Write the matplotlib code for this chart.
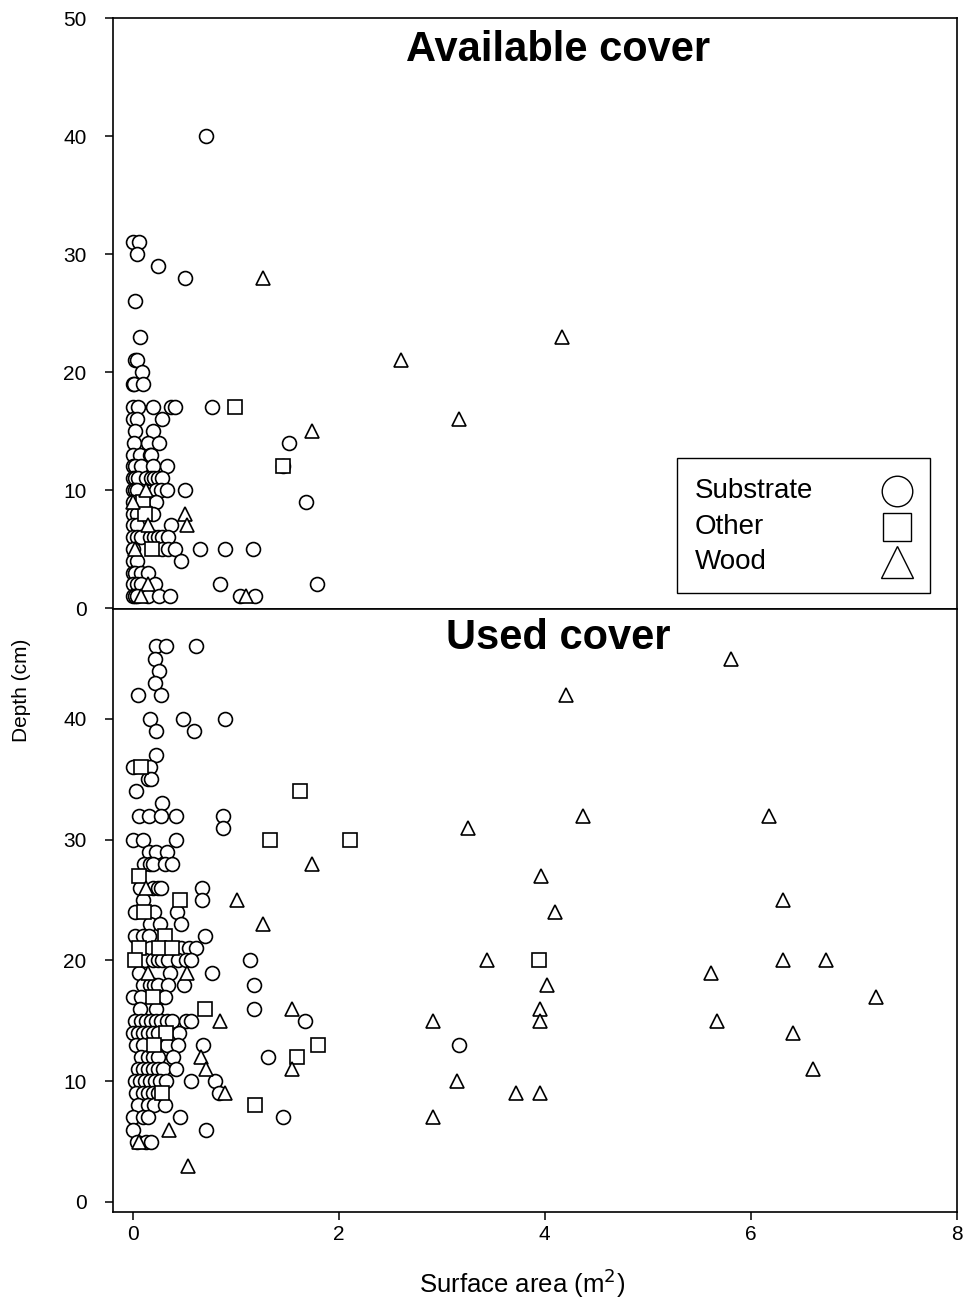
import numpy as np
import matplotlib
matplotlib.use("Agg")
import matplotlib.pyplot as plt
from matplotlib.patches import Rectangle

plt.rcParams['font.family'] = ['Liberation Sans', 'DejaVu Sans']

# ---- Available cover (top panel) ----
avail_sub_x = [0.71,
               0.0, 0.06, 0.04, 0.25, 0.51, 0.02, 0.07, 0.02, 0.04, 0.09,
               0.0, 0.01, 0.1,
               0.0, 0.05, 0.2, 0.37, 0.41, 0.77,
               0.0, 0.04, 0.29,
               0.02, 0.2,
               0.01, 0.15, 0.26, 1.52,
               0.0, 0.07, 0.17, 0.18,
               0.0, 0.02, 0.08, 0.2, 0.33, 1.46,
               0.0, 0.02, 0.05, 0.13, 0.18, 0.21, 0.25, 0.29,
               0.0, 0.02, 0.04, 0.23, 0.28, 0.33, 0.51,
               0.0, 0.18, 0.23, 1.68,
               0.0, 0.04, 0.2,
               0.0, 0.04, 0.37,
               0.0, 0.04, 0.08, 0.17, 0.21, 0.25, 0.29, 0.34,
               0.0, 0.29, 0.34, 0.41, 0.65, 0.9, 1.17,
               0.0, 0.04, 0.47,
               0.0, 0.02, 0.08, 0.15,
               0.0, 0.04, 0.08, 0.22, 0.85, 1.79,
               0.0, 0.02, 0.04, 0.15, 0.26, 0.36, 1.04, 1.19]
avail_sub_y = [40,
               31, 31, 30, 29, 28, 26, 23, 21, 21, 20,
               19, 19, 19,
               17, 17, 17, 17, 17, 17,
               16, 16, 16,
               15, 15,
               14, 14, 14, 14,
               13, 13, 13, 13,
               12, 12, 12, 12, 12, 12,
               11, 11, 11, 11, 11, 11, 11, 11,
               10, 10, 10, 10, 10, 10, 10,
               9, 9, 9, 9,
               8, 8, 8,
               7, 7, 7,
               6, 6, 6, 6, 6, 6, 6, 6,
               5, 5, 5, 5, 5, 5, 5,
               4, 4, 4,
               3, 3, 3, 3,
               2, 2, 2, 2, 2, 2,
               1, 1, 1, 1, 1, 1, 1, 1]
avail_oth_x = [0.99, 1.46, 0.1, 0.12, 0.19]
avail_oth_y = [17, 12, 9, 8, 5]
avail_wood_x = [1.27, 2.6, 4.17, 3.17, 1.74, 0.51, 0.53, 0.13, 0.0, 0.15,
                0.02, 0.15, 0.08, 1.1]
avail_wood_y = [28, 21, 23, 16, 15, 8, 7, 10, 9, 7,
                5, 2, 1, 1]

# ---- Used cover (bottom panel) ----
used_sub_x = [0.23, 0.32, 0.62, 0.22, 0.26, 0.22, 0.05, 0.28,
              0.17, 0.49, 0.9, 0.23, 0.6, 0.23, 0.0, 0.17, 0.15, 0.18,
              0.03, 0.29,
              0.06, 0.16, 0.28, 0.42, 0.88, 0.88,
              0.0, 0.1, 0.42,
              0.16, 0.23, 0.33,
              0.11, 0.17, 0.2, 0.31, 0.38,
              0.07, 0.2, 0.25, 0.28, 0.67,
              0.1, 0.67,
              0.02, 0.21, 0.43,
              0.17, 0.27, 0.47,
              0.02, 0.1, 0.16, 0.7,
              0.17, 0.47, 0.55, 0.62,
              0.12, 0.2, 0.25, 0.29, 0.34, 0.44, 0.52, 0.57, 1.14,
              0.06, 0.36, 0.77,
              0.1, 0.17, 0.21, 0.25, 0.34, 0.5, 1.18,
              0.0, 0.08, 0.28, 0.31,
              0.07, 0.23, 1.18,
              0.02, 0.08, 0.13, 0.18, 0.23, 0.28, 0.33, 0.38, 0.52, 0.57, 1.67,
              0.0, 0.05, 0.1, 0.15, 0.2, 0.25, 0.45,
              0.03, 0.1, 0.33, 0.44, 0.68, 3.17,
              0.08, 0.15, 0.2, 0.25, 0.39, 1.31,
              0.05, 0.1, 0.15, 0.2, 0.25, 0.3, 0.42,
              0.02, 0.07, 0.12, 0.17, 0.22, 0.27, 0.32, 0.57, 0.8,
              0.03, 0.1, 0.15, 0.2, 0.25, 0.84,
              0.05, 0.15, 0.21, 0.31,
              0.0, 0.1, 0.15, 0.46, 1.46,
              0.0, 0.71,
              0.04, 0.13, 0.18]
used_sub_y = [46, 46, 46, 45, 44, 43, 42, 42,
              40, 40, 40, 39, 39, 37, 36, 36, 35, 35,
              34, 33,
              32, 32, 32, 32, 32, 31,
              30, 30, 30,
              29, 29, 29,
              28, 28, 28, 28, 28,
              26, 26, 26, 26, 26,
              25, 25,
              24, 24, 24,
              23, 23, 23,
              22, 22, 22, 22,
              21, 21, 21, 21,
              20, 20, 20, 20, 20, 20, 20, 20, 20,
              19, 19, 19,
              18, 18, 18, 18, 18, 18, 18,
              17, 17, 17, 17,
              16, 16, 16,
              15, 15, 15, 15, 15, 15, 15, 15, 15, 15, 15,
              14, 14, 14, 14, 14, 14, 14,
              13, 13, 13, 13, 13, 13,
              12, 12, 12, 12, 12, 12,
              11, 11, 11, 11, 11, 11, 11,
              10, 10, 10, 10, 10, 10, 10, 10, 10,
              9, 9, 9, 9, 9, 9,
              8, 8, 8, 8,
              7, 7, 7, 7, 7,
              6, 6,
              5, 5, 5]
used_oth_x = [0.08, 1.62, 1.33, 2.11, 0.06, 0.46, 0.11, 0.31, 0.06, 0.26,
              0.38, 0.02, 3.94, 0.2, 0.7, 0.32, 0.21, 1.8, 1.6, 0.29, 1.19]
used_oth_y = [36, 34, 30, 30, 27, 25, 24, 22, 21, 21,
              21, 20, 20, 17, 16, 14, 13, 13, 12, 9, 8]
used_wood_x = [5.81, 4.21, 4.37, 6.18, 3.25, 1.74, 3.96, 0.13, 1.01, 6.31,
               4.1, 1.27, 3.44, 6.31, 6.73, 0.15, 0.53, 5.61, 4.02, 7.21,
               1.55, 3.95, 0.85, 2.92, 3.95, 5.67, 6.41, 0.66, 0.71, 1.55,
               6.6, 3.15, 0.9, 3.72, 3.95, 2.92, 0.35, 0.06, 0.54]
used_wood_y = [45, 42, 32, 32, 31, 28, 27, 26, 25, 25,
               24, 23, 20, 20, 20, 19, 19, 19, 18, 17,
               16, 16, 15, 15, 15, 15, 14, 12, 11, 11,
               11, 10, 9, 9, 9, 7, 6, 5, 3]

legend_labels = ["Substrate", "Other", "Wood"]
legend_markers = ['o', 's', '^']

W, H = 966, 1302
fig = plt.figure(figsize=(W / 100, H / 100), dpi=100)

left, right = 113 / W, 957 / W
ax1 = fig.add_axes([left, 1 - 609 / H, right - left, (609 - 18) / H])
ax2 = fig.add_axes([left, 1 - 1212 / H, right - left, (1212 - 609) / H])

mk = dict(linestyle='none', markerfacecolor='white', markeredgecolor='black',
          markeredgewidth=1.2, zorder=3)

for ax, sx, sy, ox, oy, wx, wy in [
        (ax1, avail_sub_x, avail_sub_y, avail_oth_x, avail_oth_y, avail_wood_x, avail_wood_y),
        (ax2, used_sub_x, used_sub_y, used_oth_x, used_oth_y, used_wood_x, used_wood_y)]:
    ax.plot(sx, sy, marker='o', markersize=10, **mk)
    ax.plot(ox, oy, marker='s', markersize=9.5, **mk)
    ax.plot(wx, wy, marker='^', markersize=10.5, **mk)
    ax.set_xlim(-0.19, 8.0)
    for sp in ax.spines.values():
        sp.set_linewidth(1.2)
    ax.tick_params(axis='y', direction='out', length=6, width=1.1, labelsize=15, pad=13)

ax1.set_ylim(-0.08, 50)
ax1.set_yticks(np.arange(0, 51, 10))
ax1.tick_params(axis='x', bottom=False, labelbottom=False)

ax2.set_ylim(-0.83, 49.1)
ax2.set_yticks(np.arange(0, 41, 10))
ax2.set_xticks(np.arange(0, 9, 2))
ax2.tick_params(axis='x', direction='out', length=6, width=1.1, labelsize=15, pad=3)

ax1.text(0.527, 0.946, "Available cover", transform=ax1.transAxes,
         ha='center', va='center', fontsize=30, fontweight='bold')
ax2.text(0.527, 0.952, "Used cover", transform=ax2.transAxes,
         ha='center', va='center', fontsize=30, fontweight='bold')

# legend drawn by hand: labels on the left, symbols on the right
tr = ax1.transAxes
x0, x1 = (677 - 113) / 844, (930 - 113) / 844
y0, y1 = (609 - 593) / 591, (609 - 458) / 591
ax1.add_patch(Rectangle((x0, y0), x1 - x0, y1 - y0, transform=tr, facecolor='white',
                        edgecolor='black', linewidth=1.0, zorder=4))
rows = [(609 - 491) / 591, (609 - 527) / 591, (609 - 562) / 591]
for lab, m, ry, ms in zip(legend_labels, legend_markers, rows, [22, 20, 23]):
    ax1.text((695 - 113) / 844, ry, lab, transform=tr, ha='left', va='center',
             fontsize=20, zorder=5)
    ax1.plot([(897 - 113) / 844], [ry], transform=tr, marker=m, markersize=ms,
             linestyle='none', markerfacecolor='white', markeredgecolor='black',
             markeredgewidth=1.0, zorder=5, clip_on=False)

fig.text(22 / W, 1 - 690 / H, "Depth (cm)", rotation=90, ha='center', va='center',
         fontsize=15)
fig.text(522 / W, 1 - 1283 / H, "Surface area (m$^2$)", ha='center', va='center',
         fontsize=18.5)

fig.savefig("out.png", dpi=100)
